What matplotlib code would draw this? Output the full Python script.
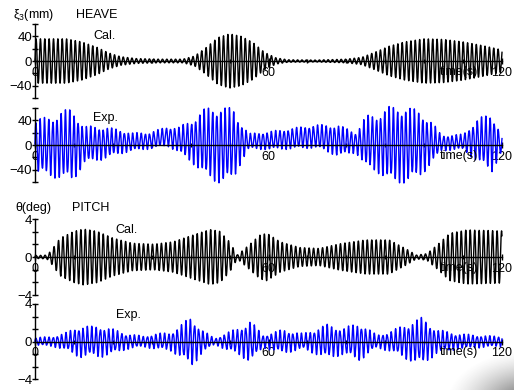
import numpy as np
import matplotlib
matplotlib.use('Agg')
import matplotlib.pyplot as plt

plt.rcParams['font.family'] = ['Liberation Sans', 'DejaVu Sans']
plt.rcParams['mathtext.fontset'] = 'custom'
plt.rcParams['mathtext.rm'] = 'Liberation Sans'
plt.rcParams['mathtext.it'] = 'Liberation Sans:italic'

W, H = 514, 390

# envelope: time (s), half amplitude, mean offset
heave_cal_t = [0, 8, 12, 16, 19, 22, 26, 32, 38, 41, 44, 47, 50, 53, 56, 59, 62, 65,
               72, 80, 84, 88, 91, 95, 100, 105, 110, 115, 120]
heave_cal_amp = [36, 36, 31, 22, 13, 7, 4, 3, 3, 8, 22, 38, 44, 40, 30, 14, 5, 2,
                 1.5, 3, 6, 16, 24, 31, 36, 35, 31, 25, 18]

heave_exp_t = [0, 4, 7, 9.5, 11, 12.5, 17, 21, 25, 29.5, 34, 37, 40.5, 44, 47.5, 51, 53,
               55, 60, 65.5, 72, 78, 82.5, 85, 88, 91, 95.5, 99, 102, 104.5, 110, 114,
               117.5, 120]
heave_exp_amp = [42, 46, 53, 56, 45, 29, 26, 20, 14, 13, 15, 20, 34, 54, 59, 55, 30,
                 12, 14, 16, 18, 24, 16, 40, 45, 58, 59, 50, 32, 12, 12, 35, 45, 12]
heave_exp_off = [-2, -3, 0, 0, 0, 0, 3, 5, 5, 7, 14, 8, 6, 4, 0, 1, 4,
                 6, 7, 10, 14, 7, 4, 5, 3, 1, 0, 2, 4, 3, 5, 7, 4, 2]

pitch_cal_t = [0, 3, 4, 6.5, 10, 12.5, 16, 20, 25, 30.5, 35.5, 40.5, 45, 47.5, 50, 52,
               54.8, 57.8, 59.6, 63, 68, 73, 78.4, 85, 91, 95.6, 98, 100.7, 103.3,
               106.6, 111, 120]
pitch_cal_amp = [0.15, 0.2, 0.6, 2.0, 2.7, 2.95, 2.7, 2.0, 1.45, 1.35, 1.6, 2.3, 2.9,
                 2.7, 1.6, 0.2, 1.2, 2.3, 2.5, 1.6, 1.0, 0.9, 1.4, 1.8, 1.8, 0.8, 0.2,
                 0.35, 1.25, 2.5, 2.85, 2.75]

pitch_exp_t = [0, 4.5, 8, 11.5, 15, 16.7, 20, 23.5, 27.8, 31.3, 34.7, 37.3, 40.2, 43.2,
               46.2, 49.3, 52.7, 55.3, 58.6, 63.7, 68.9, 75, 79.2, 83.5, 87.8, 91.2,
               95.6, 99.5, 103.3, 108.4, 113.5, 120]
pitch_exp_amp = [0.4, 0.5, 0.9, 1.6, 1.5, 1.6, 1.25, 0.8, 0.55, 0.8, 0.9, 1.6, 2.5, 1.1,
                 0.3, 0.9, 1.4, 2.1, 0.65, 1.2, 0.8, 1.7, 1.35, 1.9, 0.65, 1.0, 1.8,
                 2.4, 1.2, 0.8, 0.65, 0.5]

x_ticks = [0, 60, 120]
heave_ticks = [-40, 0, 40]
pitch_ticks = [-4, 0, 4]


def signal(t_knots, amp_knots, period, off_knots=None, chop=0.0):
    t = np.arange(0, 120.01, 0.04)
    amp = np.interp(t, t_knots, amp_knots)
    wave = np.sin(2 * np.pi * t / period)
    if chop:
        wave = (wave + chop * np.sin(2 * np.pi * t / (period * 0.55) + 0.7)) / (1 + chop * 0.5)
    y = amp * wave
    if off_knots is not None:
        y = y + np.interp(t, t_knots, off_knots)
    return t, y


def make_axes(fig, top, bottom, lim, major, minor_step):
    ax = fig.add_axes([35 / W, 1 - bottom / H, (502 - 35) / W, (bottom - top) / H])
    ax.set_xlim(0, 120)
    ax.set_ylim(-lim, lim)
    for s in ['top', 'right']:
        ax.spines[s].set_visible(False)
    ax.spines['left'].set_position(('data', 0))
    ax.spines['bottom'].set_position(('data', 0))
    ax.spines['left'].set_linewidth(1.0)
    ax.spines['bottom'].set_linewidth(1.0)
    ax.set_xticks(x_ticks)
    ax.set_xticks(np.arange(0, 121, 10), minor=True)
    ax.set_yticks(major)
    ax.set_yticks(np.arange(-lim, lim + 0.001, minor_step), minor=True)
    ax.set_yticklabels([str(v).replace('-', '\u2212') for v in major])
    ax.tick_params(axis='both', which='major', direction='inout', length=5, width=1.0,
                   labelsize=9.5, pad=-0.5)
    ax.tick_params(axis='x', which='major', pad=1.5, labelsize=9)
    ax.tick_params(axis='both', which='minor', direction='inout', length=5, width=1.0)
    ax.tick_params(axis='x', which='minor', length=3)
    ax.patch.set_visible(False)
    ax.text(109, -lim * 0.13, 'time(s)', fontsize=9, ha='center', va='top')
    return ax


fig = plt.figure(figsize=(W / 100, H / 100), dpi=100)

ax1 = make_axes(fig, 24, 98, 60, heave_ticks, 20)
t, y = signal(heave_cal_t, heave_cal_amp, 1.12)
ax1.plot(t, y, color='black', lw=1.0, clip_on=False)

ax2 = make_axes(fig, 108, 182, 60, heave_ticks, 20)
t, y = signal(heave_exp_t, heave_exp_amp, 1.08, heave_exp_off, chop=0.15)
ax2.plot(t, y, color='#0000ff', lw=1.0, clip_on=False)

ax3 = make_axes(fig, 219, 295, 4, pitch_ticks, 4 / 3)
t, y = signal(pitch_cal_t, pitch_cal_amp, 1.15)
ax3.plot(t, y, color='black', lw=1.0, clip_on=False)

ax4 = make_axes(fig, 304, 379, 4, pitch_ticks, 4 / 3)
t, y = signal(pitch_exp_t, pitch_exp_amp, 1.1, chop=0.2)
ax4.plot(t, y, color='#0000ff', lw=1.0, clip_on=False)


def label(x, y, s, ha='center'):
    fig.text(x / W, 1 - y / H, s, fontsize=9, ha=ha, va='center')


label(13, 15, '\u03be$_3$(mm)', ha='left')
label(97, 15, 'HEAVE')
label(104, 36, 'Cal.')
label(105, 118, 'Exp.')
label(15, 208, '\u03b8(deg)', ha='left')
label(91, 208, 'PITCH')
label(126, 230, 'Cal.')
label(128, 315, 'Exp.')

# soft page-curl shadow in the lower right corner of the scan
sh = fig.add_axes([400 / W, 0, 114 / W, 65 / H])
sh.axis('off')
sh.set_zorder(-1)
gx, gy = np.meshgrid(np.linspace(0, 114, 114), np.linspace(0, 65, 65))
d = np.sqrt(((130 - gx) / 85) ** 2 + ((gy + 15) / 55) ** 2)
alpha = np.clip(1 - d, 0, 1) ** 1.4 * 0.9
rgba = np.zeros((65, 114, 4))
rgba[..., :3] = 0.25
rgba[..., 3] = alpha
sh.imshow(rgba, origin='lower', extent=[0, 1, 0, 1], aspect='auto')

fig.savefig('out.png', dpi=100)
